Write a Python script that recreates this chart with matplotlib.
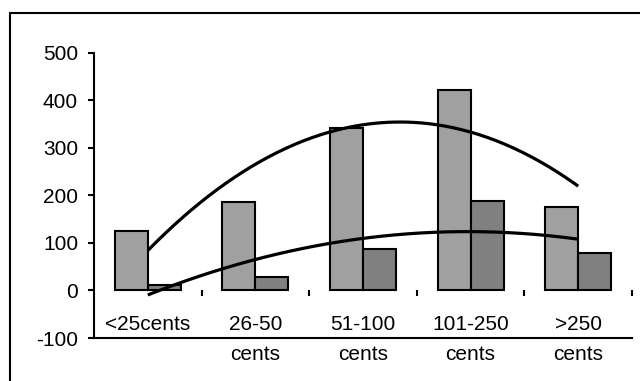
import numpy as np
import matplotlib
matplotlib.use("Agg")
import matplotlib.pyplot as plt
from matplotlib.patches import Rectangle

plt.rcParams['font.family'] = ['Liberation Sans', 'DejaVu Sans']

categories = ["<25cents", "26-50\ncents", "51-100\ncents", "101-250\ncents", ">250\ncents"]
series_a = [125, 185, 342, 421, 176]
series_b = [12, 29, 88, 188, 79]
y_ticks = [-100, 0, 100, 200, 300, 400, 500]

fig = plt.figure(figsize=(6.4, 3.81), dpi=100)
ax = fig.add_axes([94 / 640, 1 - 338 / 381, (632 - 94) / 640, (338 - 52.5) / 381])

x = np.arange(len(categories))
w = 0.307
ax.bar(x - w / 2, series_a, width=w, color='#a0a0a0', edgecolor='black', linewidth=1.5, zorder=2)
ax.bar(x + w / 2, series_b, width=w, color='#808080', edgecolor='black', linewidth=1.5, zorder=2)

# second-order polynomial trend lines through each series
xs = np.linspace(x[0], x[-1], 200)
for ys in (series_a, series_b):
    coef = np.polyfit(x, ys, 2)
    ax.plot(xs, np.polyval(coef, xs), color='black', linewidth=2.3, zorder=3,
            solid_capstyle='butt')

ax.set_xlim(-0.5, len(categories) - 0.5)
ax.set_ylim(-100, 500)
ax.set_yticks(y_ticks)
ax.set_yticklabels([str(v) for v in y_ticks])

ax.spines['top'].set_visible(False)
ax.spines['right'].set_visible(False)
ax.spines['left'].set_linewidth(1.5)
ax.spines['bottom'].set_position(('data', 0))
ax.spines['bottom'].set_visible(False)
ax.axhline(-100, color='black', linewidth=1.5, clip_on=False, zorder=4)

ax.set_xticks(x + 0.5)
ax.set_xticklabels([''] * len(categories))
ax.set_xticks(x, categories, minor=True)
ax.tick_params(axis='x', which='major', direction='out', length=4.5, width=1.5, color='black')
ax.tick_params(axis='x', which='minor', length=0, pad=17.5, labelsize=15)
ax.tick_params(axis='y', direction='out', length=4.5, width=1.5, pad=7, labelsize=15)
for lbl in ax.get_xticklabels(minor=True):
    lbl.set_linespacing(1.72)

fig.add_artist(Rectangle((10 / 640, -0.1), 1.2, 1.1 - 13 / 381, transform=fig.transFigure,
                         fill=False, edgecolor='black', linewidth=1.5))

fig.savefig('out.png', dpi=100)
